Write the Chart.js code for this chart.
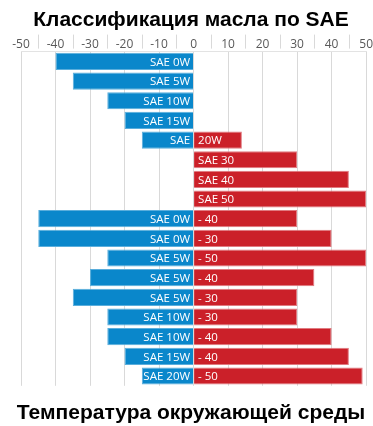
<!DOCTYPE html>
<html lang="ru">
<head>
    <meta charset="UTF-8">
    <title>Классификация масла по SAE</title>
    <script src="https://cdn.jsdelivr.net/npm/chart.js"></script>
    <style>
        body { margin: 0; background: #fff; }
        .wrap { width: 373px; height: 426px; }
    </style>
</head>
<body>
    <div class="wrap"><canvas id="saeChart"></canvas></div>

    <script>
        // rows top to bottom
        const rows = ["SAE 0W", "SAE 5W", "SAE 10W", "SAE 15W", "SAE 20W", "SAE 30", "SAE 40", "SAE 50",
            "SAE 0W-40", "SAE 0W-30", "SAE 5W-50", "SAE 5W-40", "SAE 5W-30",
            "SAE 10W-30", "SAE 10W-40", "SAE 15W-40", "SAE 20W-50"];
        // text written inside the blue / red bars
        const coldLabels = ["SAE 0W", "SAE 5W", "SAE 10W", "SAE 15W", "SAE", "", "", "",
            "SAE 0W", "SAE 0W", "SAE 5W", "SAE 5W", "SAE 5W", "SAE 10W", "SAE 10W", "SAE 15W", "SAE 20W"];
        const hotLabels = ["", "", "", "", "20W", "SAE 30", "SAE 40", "SAE 50",
            "- 40", "- 30", "- 50", "- 40", "- 30", "- 30", "- 40", "- 40", "- 50"];
        // lowest / highest ambient temperature, °C
        const coldValues = [-40, -35, -25, -20, -15, null, null, null, -45, -45, -25, -30, -35, -25, -25, -20, -15];
        const hotValues = [null, null, null, null, 14, 30, 45, 50, 30, 40, 50, 35, 30, 30, 40, 45, 49];

        const barText = {
            id: 'barText',
            afterDatasetsDraw(chart) {
                const ctx = chart.ctx;
                ctx.save();
                ctx.font = '11.5px "Open Sans"';
                ctx.fillStyle = '#ffffff';
                ctx.textBaseline = 'middle';
                chart.data.datasets.forEach((ds, i) => {
                    const meta = chart.getDatasetMeta(i);
                    const texts = i === 0 ? coldLabels : hotLabels;
                    meta.data.forEach((bar, j) => {
                        if (!texts[j] || ds.data[j] === null) return;
                        if (i === 0) {
                            ctx.textAlign = 'right';
                            ctx.fillText(texts[j], bar.base - 3, bar.y + 1);
                        } else {
                            ctx.textAlign = 'left';
                            ctx.fillText(texts[j], bar.base + 4, bar.y + 1);
                        }
                    });
                });
                ctx.restore();
            }
        };

        // little separators between the tick labels, like the original
        const tickSeparators = {
            id: 'tickSeparators',
            afterDraw(chart) {
                const sx = chart.scales.x;
                const ctx = chart.ctx;
                const top = chart.chartArea.top;
                ctx.save();
                ctx.strokeStyle = '#d9d9d9';
                ctx.lineWidth = 1;
                for (let k = 0; k < sx.ticks.length - 1; k++) {
                    const mid = (sx.ticks[k].value + sx.ticks[k + 1].value) / 2;
                    const px = Math.round(sx.getPixelForValue(mid)) + 0.5;
                    ctx.beginPath();
                    ctx.moveTo(px, top - 17);
                    ctx.lineTo(px, top - 3);
                    ctx.stroke();
                }
                ctx.restore();
            }
        };

        new Chart(document.getElementById('saeChart'), {
            type: 'bar',
            data: {
                labels: rows,
                datasets: [
                    {
                        data: coldValues,
                        backgroundColor: '#0a87cb',
                        borderColor: '#5aaedc',
                        borderWidth: 1,
                        barPercentage: 0.9,
                        categoryPercentage: 0.97
                    },
                    {
                        data: hotValues,
                        backgroundColor: '#cb2029',
                        borderColor: '#e07a80',
                        borderWidth: 1,
                        barPercentage: 0.9,
                        categoryPercentage: 0.97
                    }
                ]
            },
            plugins: [barText, tickSeparators],
            options: {
                indexAxis: 'y',
                responsive: true,
                maintainAspectRatio: false,
                animation: false,
                layout: { padding: { left: 13, right: 4, top: 0, bottom: 0 } },
                scales: {
                    x: {
                        position: 'top',
                        stacked: true,
                        min: -50,
                        max: 50,
                        ticks: {
                            stepSize: 10,
                            color: '#595959',
                            font: { family: '"Open Sans"', size: 12 },
                            padding: 0
                        },
                        grid: { color: '#d9d9d9', drawTicks: false },
                        border: { display: true, color: '#e3e3e3' }
                    },
                    y: {
                        stacked: true,
                        ticks: { display: false },
                        grid: { display: false },
                        border: { display: false }
                    }
                },
                plugins: {
                    legend: { display: false },
                    tooltip: { enabled: false },
                    title: {
                        display: true,
                        text: 'Классификация масла по SAE',
                        color: '#000',
                        font: { family: 'Arial', size: 21, weight: 'bold' },
                        padding: { top: 8, bottom: 4 }
                    },
                    subtitle: {
                        display: true,
                        position: 'bottom',
                        text: 'Температура окружающей среды',
                        color: '#000',
                        font: { family: 'Arial', size: 21, weight: 'bold' },
                        padding: { top: 15, bottom: 0 }
                    }
                }
            }
        });
    </script>
</body>
</html>
